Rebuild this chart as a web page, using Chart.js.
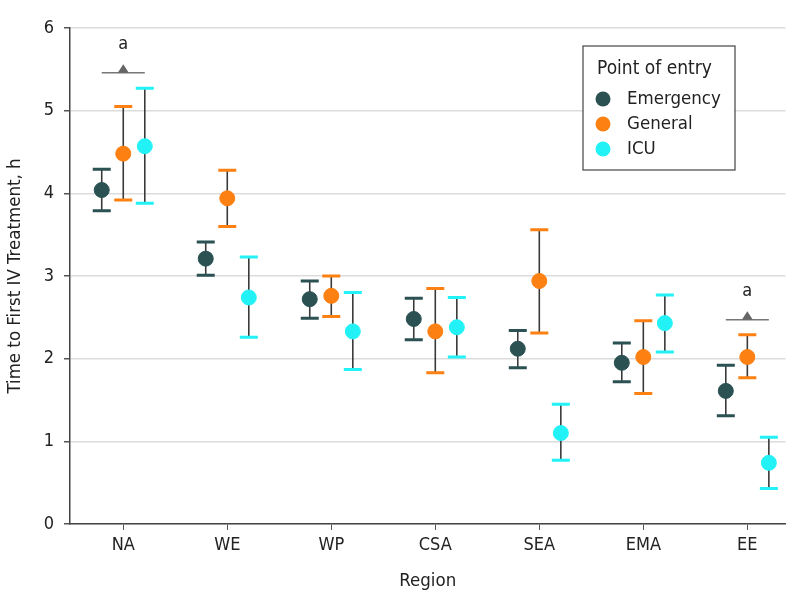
<!DOCTYPE html>
<html>
<head>
<meta charset="utf-8">
<script src="https://cdn.jsdelivr.net/npm/chart.js@4"></script>
<style>
    body { margin: 0; background: #fff; }
    #wrap { width: 794px; height: 609px; position: relative; }
</style>
</head>
<body>
<div id="wrap"><canvas id="ivChart"></canvas></div>
<script>
//! Data
const regions = ['NA', 'WE', 'WP', 'CSA', 'SEA', 'EMA', 'EE'];

const emergencyMean = [4.04, 3.21, 2.72, 2.48, 2.12, 1.95, 1.61];
const emergencyLow  = [3.79, 3.01, 2.49, 2.23, 1.89, 1.72, 1.31];
const emergencyHigh = [4.29, 3.41, 2.94, 2.73, 2.34, 2.19, 1.92];

const generalMean = [4.48, 3.94, 2.76, 2.33, 2.94, 2.02, 2.02];
const generalLow  = [3.92, 3.60, 2.51, 1.83, 2.31, 1.58, 1.77];
const generalHigh = [5.05, 4.28, 3.00, 2.85, 3.56, 2.46, 2.29];

const icuMean = [4.57, 2.74, 2.33, 2.38, 1.10, 2.43, 0.74];
const icuLow  = [3.88, 2.26, 1.87, 2.02, 0.77, 2.08, 0.43];
const icuHigh = [5.27, 3.23, 2.80, 2.74, 1.45, 2.77, 1.05];

const yTicks = [0, 1, 2, 3, 4, 5, 6];

// "a" markers: region index and the height of the bracket
const markRegions = [0, 6];
const markHeights = [5.46, 2.47];

const FONT = "'DejaVu Sans Condensed', 'DejaVu Sans', sans-serif";
const shift = 0.207; // side by side inside a region

function makeSet(label, color, mean, low, high, k) {
    return {
        label: label,
        data: mean.map((v, i) => ({ x: i + k * shift, y: v, lo: low[i], hi: high[i] })),
        backgroundColor: color,
        borderColor: color,
        pointRadius: 7.5,
        pointHoverRadius: 7.5,
        showLine: false,
    };
}

//! Error bars (drawn under the points)
const errorBars = {
    id: 'errorBars',
    beforeDatasetsDraw(chart) {
        const { ctx, scales: { x, y } } = chart;
        ctx.save();
        chart.data.datasets.forEach((ds) => {
            ds.data.forEach((p) => {
                const px = x.getPixelForValue(p.x);
                const top = y.getPixelForValue(p.hi);
                const bot = y.getPixelForValue(p.lo);
                ctx.strokeStyle = '#3a3a3a';
                ctx.lineWidth = 1.6;
                ctx.beginPath();
                ctx.moveTo(px, top);
                ctx.lineTo(px, bot);
                ctx.stroke();
                ctx.strokeStyle = ds.borderColor;
                ctx.lineWidth = 3;
                ctx.beginPath();
                ctx.moveTo(px - 9, top);
                ctx.lineTo(px + 9, top);
                ctx.moveTo(px - 9, bot);
                ctx.lineTo(px + 9, bot);
                ctx.stroke();
            });
        });
        ctx.restore();
    }
};

//! "a" brackets + legend box
const extras = {
    id: 'extras',
    afterDraw(chart) {
        const { ctx, scales: { x, y } } = chart;
        ctx.save();
        markRegions.forEach((r, i) => {
            const x1 = x.getPixelForValue(r - shift);
            const x2 = x.getPixelForValue(r + shift);
            const py = y.getPixelForValue(markHeights[i]);
            const cx = (x1 + x2) / 2;
            ctx.strokeStyle = '#777';
            ctx.lineWidth = 1.5;
            ctx.beginPath();
            ctx.moveTo(x1, py);
            ctx.lineTo(x2, py);
            ctx.stroke();
            ctx.fillStyle = '#666';
            ctx.beginPath();
            ctx.moveTo(cx - 5.5, py);
            ctx.lineTo(cx + 5.5, py);
            ctx.lineTo(cx, py - 8.5);
            ctx.closePath();
            ctx.fill();
            ctx.fillStyle = '#222';
            ctx.font = '18px ' + FONT;
            ctx.textAlign = 'center';
            ctx.textBaseline = 'middle';
            ctx.fillText('a', cx, py - 28);
        });

        // legend
        const bx = 583, by = 46, bw = 152, bh = 124;
        ctx.fillStyle = '#fff';
        ctx.fillRect(bx, by, bw, bh);
        ctx.strokeStyle = '#444';
        ctx.lineWidth = 1.2;
        ctx.strokeRect(bx, by, bw, bh);
        ctx.fillStyle = '#222';
        ctx.textAlign = 'left';
        ctx.textBaseline = 'middle';
        ctx.font = '19px ' + FONT;
        ctx.fillText('Point of entry', 597, 69);
        ctx.font = '18.5px ' + FONT;
        chart.data.datasets.forEach((ds, i) => {
            const ly = 99 + i * 25;
            ctx.fillStyle = ds.backgroundColor;
            ctx.beginPath();
            ctx.arc(603, ly, 7.5, 0, Math.PI * 2);
            ctx.fill();
            ctx.fillStyle = '#222';
            ctx.fillText(ds.label, 627, ly);
        });
        ctx.restore();
    }
};

const ctx = document.getElementById('ivChart');

new Chart(ctx, {
    type: 'scatter',
    data: {
        datasets: [
            makeSet('Emergency', '#2b5153', emergencyMean, emergencyLow, emergencyHigh, -1),
            makeSet('General', '#fc8012', generalMean, generalLow, generalHigh, 0),
            makeSet('ICU', '#22f2f6', icuMean, icuLow, icuHigh, 1),
        ]
    },
    options: {
        responsive: true,
        maintainAspectRatio: false,
        animation: false,
        layout: { padding: { top: 28, right: 4, left: 0, bottom: 13 } },
        plugins: {
            legend: { display: false },
            tooltip: { enabled: false },
        },
        scales: {
            x: {
                type: 'linear',
                min: -0.512,
                max: 6.367,
                afterBuildTicks: (scale) => {
                    scale.ticks = regions.map((r, i) => ({ value: i }));
                },
                afterFit: (scale) => { scale.height = 72; },
                grid: {
                    drawOnChartArea: false,
                    drawTicks: true,
                    tickLength: 6,
                    color: '#555',
                },
                border: { color: '#444', width: 1.5 },
                ticks: {
                    callback: (v) => regions[v],
                    color: '#222',
                    font: { family: FONT, size: 18 },
                    padding: 5,
                    autoSkip: false,
                    maxRotation: 0,
                },
                title: {
                    display: true,
                    text: 'Region',
                    color: '#222',
                    font: { family: FONT, size: 18.5 },
                    padding: { top: 6 },
                },
            },
            y: {
                min: 0,
                max: 6,
                afterBuildTicks: (scale) => {
                    scale.ticks = yTicks.map((v) => ({ value: v }));
                },
                afterFit: (scale) => { scale.width = 70; },
                grid: {
                    color: '#dcdcdc',
                    lineWidth: 1.5,
                    tickColor: '#555',
                    tickLength: 6,
                },
                border: { color: '#444', width: 1.5 },
                ticks: {
                    color: '#222',
                    font: { family: FONT, size: 18 },
                    padding: 10,
                },
                title: {
                    display: true,
                    text: 'Time to First IV Treatment, h',
                    color: '#222',
                    font: { family: FONT, size: 18.5 },
                    padding: { bottom: 2 },
                },
            },
        }
    },
    plugins: [errorBars, extras]
});
</script>
</body>
</html>
